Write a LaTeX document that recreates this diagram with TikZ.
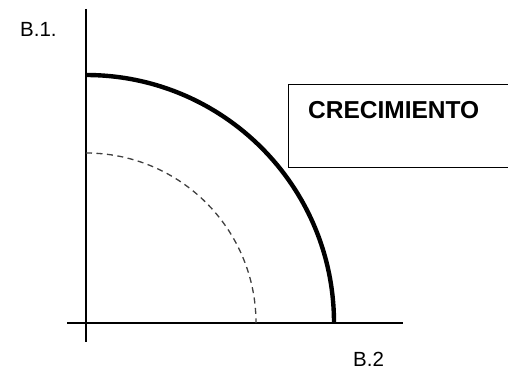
\documentclass[tikz,border=0pt]{standalone}
\usepackage{fontspec}
\setmainfont{Liberation Sans}
\usetikzlibrary{positioning}

\begin{document}
\begin{tikzpicture}[
    x=1pt, y=-1pt,
    axis/.style={line width=1.3pt, black},
    frontier/.style={line width=4.4pt, black},
    inner/.style={line width=1.3pt, black!75, dash pattern=on 6pt off 4.5pt},
    tag/.style={font=\fontsize{20.5}{23}\selectfont, inner sep=0pt},
    boxlabel/.style={rectangle, draw, line width=1.3pt, minimum width=226pt,
                     minimum height=83pt, inner sep=0pt}
  ]
    \useasboundingbox (0,0) rectangle (508,369);
    % axes
    \coordinate (O) at (86,323);
    \coordinate (ytop) at (86,9);
    \coordinate (ybot) at (86,342);
    \coordinate (xleft) at (67,323);
    \coordinate (xright) at (403,323);
    \draw[axis] (ytop) -- (ybot);
    \draw[axis] (xleft) -- (xright);
    % curves
    \draw[frontier] (86,75) arc[start angle=-90, end angle=0, radius=248];
    \draw[inner] (86,153) arc[start angle=-90, end angle=0, radius=170];
    % labels
    \node[tag, anchor=base west] (b1) at (20,37) {B.1.};
    \node[tag, anchor=base west] (b2) at (353,366) {B.2};
    \node[boxlabel, anchor=north west] (box) at (288,84) {};
    \node[anchor=base west, inner sep=0pt,
          font=\fontsize{24.5}{27}\selectfont\bfseries] (crec) at (308,118) {CRECIMIENTO};
\end{tikzpicture}
\end{document}
